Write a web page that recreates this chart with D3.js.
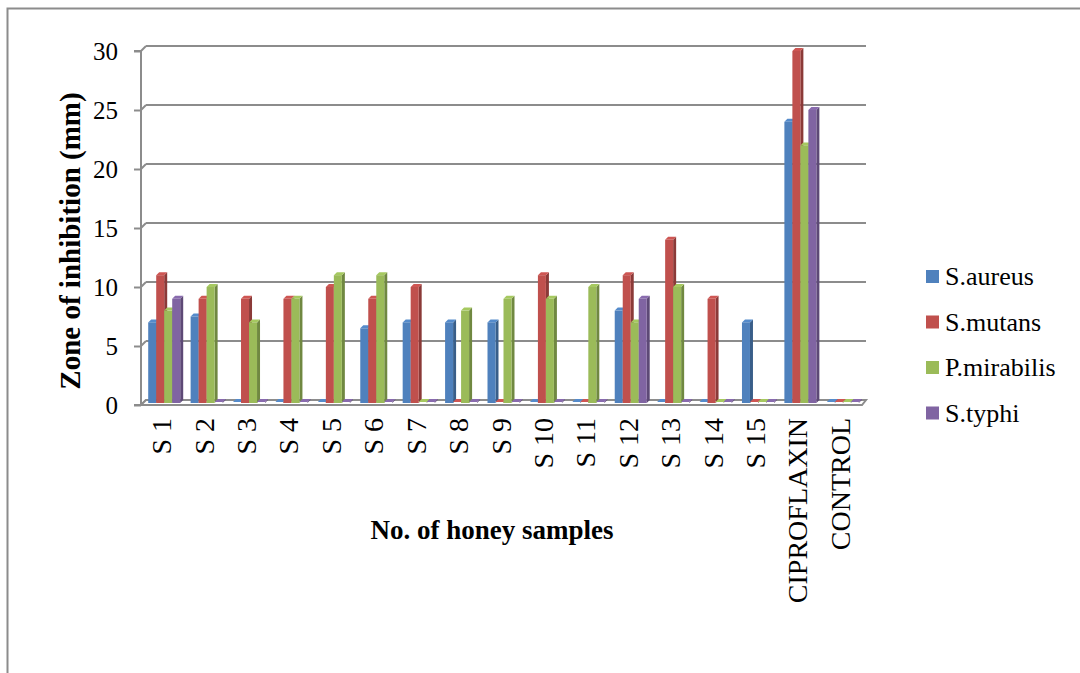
<!DOCTYPE html>
<html><head><meta charset="utf-8">
<script src="https://cdnjs.cloudflare.com/ajax/libs/d3/7.8.5/d3.min.js"></script>
<style>body{margin:0;background:#fff}svg{display:block}</style>
</head><body>
<script>
const categories = ["S 1","S 2","S 3","S 4","S 5","S 6","S 7","S 8","S 9","S 10","S 11","S 12","S 13","S 14","S 15","CIPROFLAXIN","CONTROL"];
const seriesNames = ["S.aureus","S.mutans","P.mirabilis","S.typhi"];
const saureus   = [7,7.5,0,0,0,6.5,7,7,7,0,0,8,0,0,7,24,0];
const smutans   = [11,9,9,9,10,9,10,0,0,11,0,11,14,9,0,30,0];
const pmirabilis= [8,10,7,9,11,11,0,8,9,9,10,7,10,0,0,22,0];
const styphi    = [9,0,0,0,0,0,0,0,0,0,0,9,0,0,0,25,0];
const yTicks = [0,5,10,15,20,25,30];
const colors = ["#4F81BD","#C0504D","#9BBB59","#8064A2"];
const series = [saureus, smutans, pmirabilis, styphi];

const W=1080,H=673;
const svg=d3.select("body").append("svg").attr("width",W).attr("height",H);
const font="'Liberation Serif','Times New Roman',serif";

// outer border
svg.append("rect").attr("x",7.5).attr("y",8.5).attr("width",W+10).attr("height",H+10)
  .attr("fill","none").attr("stroke","#8c8c8c").attr("stroke-width",2);

const dx=5, dy=-5; // depth offset
const y=d3.scaleLinear().domain([0,30]).range([405,51]);
const x=d3.scaleBand().domain(categories).range([141,862]);

// gridlines (back wall)
svg.append("g").selectAll("line").data(yTicks).join("line")
  .attr("x1",141+dx).attr("x2",866)
  .attr("y1",d=>y(d)+dy).attr("y2",d=>y(d)+dy)
  .attr("stroke","#8c8c8c").attr("stroke-width",2);
// tick diagonals
svg.append("g").selectAll("line").data(yTicks).join("line")
  .attr("x1",141).attr("x2",141+dx).attr("y1",d=>y(d)).attr("y2",d=>y(d)+dy)
  .attr("stroke","#8c8c8c").attr("stroke-width",2);
// floor
svg.append("path")
  .attr("d",`M141,${y(0)}L862,${y(0)}L866,${y(0)+dy}L${141+dx},${y(0)+dy}Z`)
  .attr("fill","#fff").attr("stroke","#8c8c8c").attr("stroke-width",2);
// y axis
const yAxis=d3.axisLeft(y).tickValues(yTicks).tickSize(7).tickPadding(16);
const ga=svg.append("g").attr("transform","translate(141,0)").call(yAxis);
ga.select(".domain").attr("stroke","#8c8c8c").attr("stroke-width",2).attr("d",`M-7,${y(30)}H0V${y(0)}`);
ga.selectAll(".tick line").attr("stroke","#8c8c8c").attr("stroke-width",2);
ga.selectAll("text").attr("font-family",font).attr("font-size",25).attr("fill","#000");
// x axis line front
svg.append("line").attr("x1",134).attr("x2",862).attr("y1",y(0)).attr("y2",y(0))
  .attr("stroke","#8c8c8c").attr("stroke-width",2);

// bars
const bw=8, sd=3;
const bars=svg.append("g");
categories.forEach((c,i)=>{
  series.forEach((s,j)=>{
    const v=s[i];
    const x0=x(c)+x.bandwidth()/2-16+2+j*bw;
    const base=y(0)-2;
    let top=y(v);
    if(v===0) top=base-1;
    const col=d3.color(colors[j]);
    const g=bars.append("g");
    g.append("path").attr("d",`M${x0+bw},${base}L${x0+bw+sd},${base-sd}L${x0+bw+sd},${top-sd}L${x0+bw},${top}Z`)
      .attr("fill",col.darker(0.9));
    g.append("path").attr("d",`M${x0},${top}L${x0+sd},${top-sd}L${x0+bw+sd},${top-sd}L${x0+bw},${top}Z`)
      .attr("fill",col.brighter(0.2));
    if(v>0) g.append("rect").attr("x",x0).attr("y",top).attr("width",bw).attr("height",base-top)
      .attr("fill",colors[j]);
  });
});

// x tick labels
svg.append("g").selectAll("text").data(categories).join("text")
  .attr("transform",d=>`translate(${x(d)+x.bandwidth()/2+9},418) rotate(-90)`)
  .attr("text-anchor","end").attr("font-family",font).attr("font-size",28).text(d=>d);

// axis titles
svg.append("text").attr("x",492).attr("y",539).attr("text-anchor","middle")
  .attr("font-family",font).attr("font-size",27).attr("font-weight","bold").text("No. of honey samples");
svg.append("text").attr("transform","translate(80,241) rotate(-90)").attr("text-anchor","middle")
  .attr("font-family",font).attr("font-size",29).attr("font-weight","bold").text("Zone of inhibition (mm)");

// legend
const lg=svg.append("g").selectAll("g").data(seriesNames).join("g")
  .attr("transform",(d,i)=>`translate(926,${277+i*45.5})`);
lg.append("rect").attr("x",0).attr("y",-7).attr("width",13).attr("height",13).attr("fill",(d,i)=>colors[i]);
lg.append("text").attr("x",19).attr("y",8).attr("font-family",font).attr("font-size",26).text(d=>d);
</script>
</body></html>
